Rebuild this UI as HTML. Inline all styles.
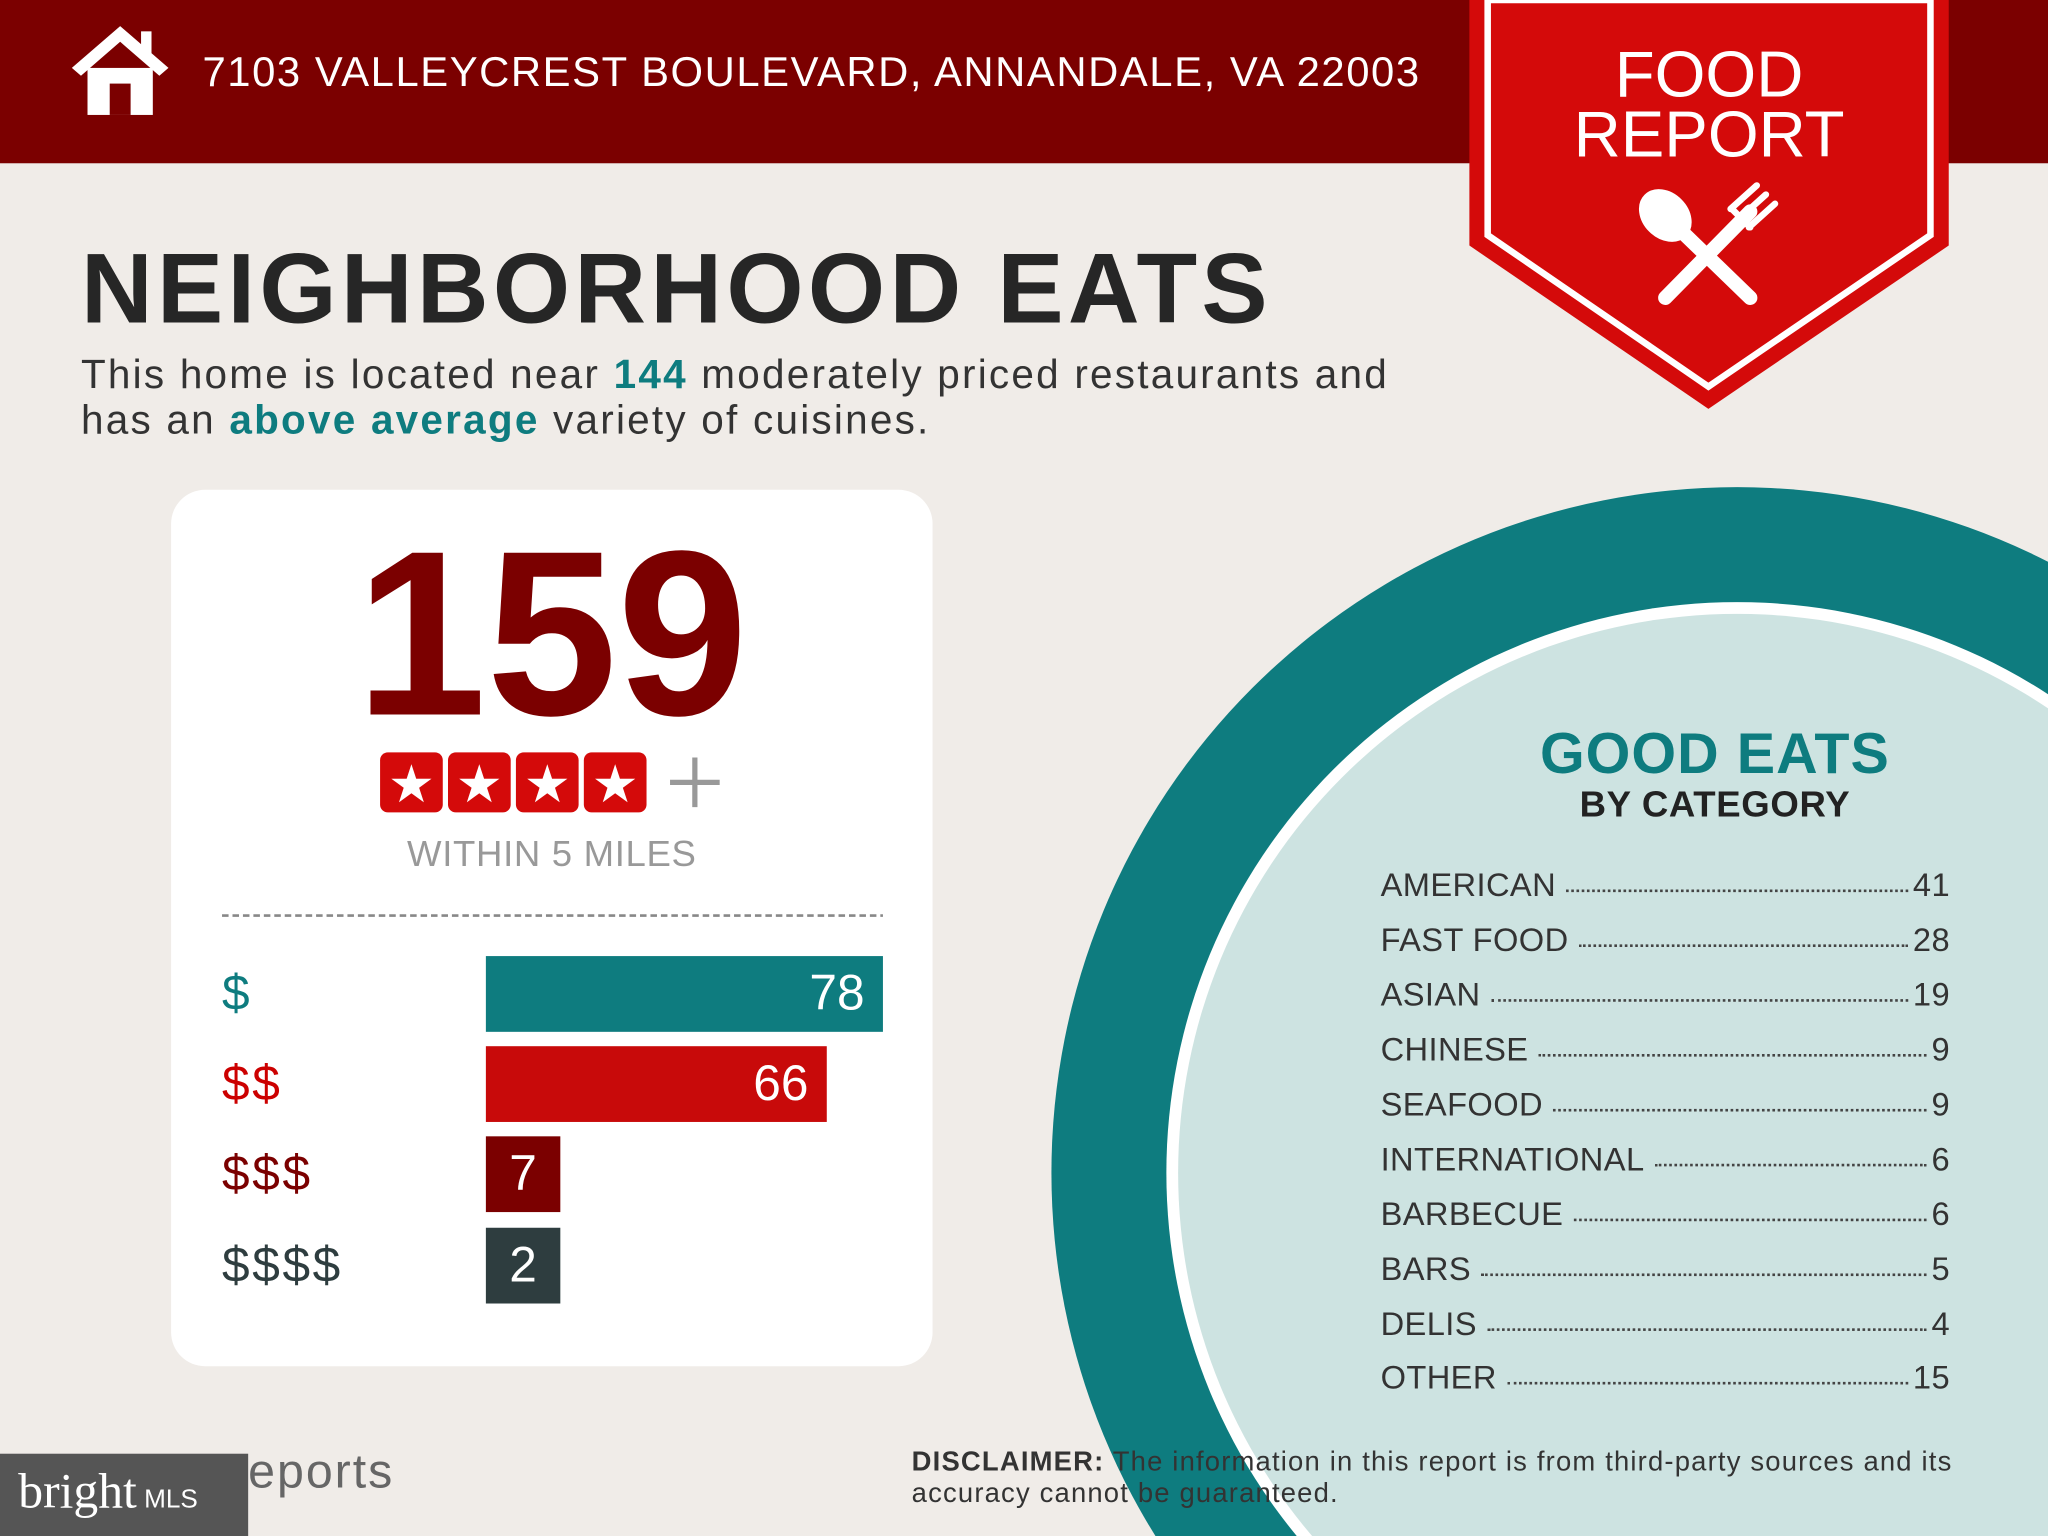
<!DOCTYPE html>
<html><head><meta charset="utf-8"><style>
html,body{margin:0;padding:0;width:2048px;height:1536px;overflow:hidden;background:#f0ece8}
#w{position:absolute;left:0;top:0;width:1568px;height:1176px;transform:scale(1.306122);transform-origin:0 0;font-family:"Liberation Sans",sans-serif;overflow:hidden;background:#f0ece8}
.a{position:absolute;white-space:nowrap}
.row{position:absolute;left:1057px;width:436px;font-size:25px;color:#333;display:flex;align-items:baseline;letter-spacing:0.3px}
.row .d{flex:1;border-bottom:2px dotted #444;margin:0 4px 0 8px;height:0;position:relative;top:-3px}
.bar{position:absolute;left:372px;height:58px;color:#fff;font-size:38px;line-height:58px;text-align:right;box-sizing:border-box;padding-right:14px}
.lab{position:absolute;left:170px;font-size:38px;line-height:58px;letter-spacing:2px}
</style></head><body><div id="w">
<svg class="a" style="left:0;top:0" width="1568" height="1176">
<rect x="0" y="0" width="1568" height="125" fill="#7b0000"/>
<circle cx="1330" cy="898" r="525" fill="#0e7c7f"/>
<circle cx="1330" cy="898" r="437" fill="#fff"/>
<circle cx="1330" cy="898" r="428" fill="#cde3e1"/>
<polygon points="1125,0 1492,0 1492,188 1308,313 1125,188" fill="#d40a0a"/>
<polygon points="1139,0 1478,0 1478,180 1308,296 1139,180" fill="none" stroke="#fff" stroke-width="5"/>
<g fill="#fff">
<polygon points="92,20 55,52 62,58 92,32 122,58 129,52"/>
<rect x="67" y="52" width="50" height="36"/>
<rect x="84" y="64" width="16" height="24" fill="#7b0000"/>
<rect x="108" y="24" width="8" height="18"/>
</g>
<g stroke="#fff" stroke-linecap="round" fill="#fff">
<line x1="1278" y1="168" x2="1340" y2="228" stroke-width="11"/>
<ellipse cx="1275" cy="165" rx="17" ry="22" transform="rotate(-45 1275 165)"/>
<line x1="1340" y1="162" x2="1275" y2="228" stroke-width="11"/>
<path d="M1325 160 L1345 142 M1332 167 L1352 149 M1339 174 L1359 156 M1326 160 L1340 174" stroke-width="5" fill="none"/>
</g>
<rect x="131" y="375" width="583" height="671" rx="26" fill="#fff"/>
<line x1="170" y1="701" x2="676" y2="701" stroke="#888" stroke-width="2" stroke-dasharray="5,3"/>
<g fill="#d40a0a">
<rect x="291" y="576" width="48" height="46" rx="6"/><rect x="343" y="576" width="48" height="46" rx="6"/><rect x="395" y="576" width="48" height="46" rx="6"/><rect x="447" y="576" width="48" height="46" rx="6"/>
</g>
<g fill="#fff" font-size="40" text-anchor="middle" font-family="DejaVu Sans">
<text x="315" y="614">★</text><text x="367" y="614">★</text><text x="419" y="614">★</text><text x="471" y="614">★</text>
</g>
<path d="M513 599 H551 M532 580 V618" stroke="#999" stroke-width="4"/>
<rect x="0" y="1113" width="190" height="63" fill="#555"/>
</svg>
<div class="a" style="left:155px;top:37px;font-size:32px;color:#fff;letter-spacing:1.2px">7103 VALLEYCREST BOULEVARD, ANNANDALE, VA 22003</div>
<div class="a" style="left:1125px;width:367px;top:34px;text-align:center;font-size:50px;line-height:46px;color:#fff">FOOD<br>REPORT</div>
<div class="a" style="left:62px;top:178px;font-size:76px;font-weight:bold;color:#262626;letter-spacing:3.3px">NEIGHBORHOOD EATS</div>
<div class="a" style="left:62px;top:269px;font-size:31px;line-height:35px;color:#333;letter-spacing:1.7px">This home is located near <b style="color:#0e7c7f">144</b> moderately priced restaurants and<br>has an <b style="color:#0e7c7f">above average</b> variety of cuisines.</div>
<div class="a" style="left:131px;width:583px;top:382px;text-align:center;font-size:180px;font-weight:bold;color:#7b0000;letter-spacing:0px">159</div>
<div class="a" style="left:131px;width:583px;top:638px;text-align:center;font-size:28px;color:#999;letter-spacing:0.5px">WITHIN 5 MILES</div>
<div class="lab" style="top:732px;color:#0e7c7f">$</div>
<div class="lab" style="top:801px;color:#c00">$$</div>
<div class="lab" style="top:870px;color:#7b0000">$$$</div>
<div class="lab" style="top:940px;color:#2e3d3f">$$$$</div>
<div class="bar" style="top:732px;width:304px;background:#0e7c7f">78</div>
<div class="bar" style="top:801px;width:261px;background:#c80a0a">66</div>
<div class="bar" style="top:870px;width:57px;background:#7b0000;text-align:center;padding:0">7</div>
<div class="bar" style="top:940px;width:57px;background:#2e3d3f;text-align:center;padding:0">2</div>
<div class="a" style="left:1113px;width:400px;top:553px;text-align:center;font-size:44px;font-weight:bold;color:#0e7c7f;letter-spacing:0.8px">GOOD EATS</div>
<div class="a" style="left:1113px;width:400px;top:600px;text-align:center;font-size:28px;font-weight:bold;color:#222;letter-spacing:0.5px">BY CATEGORY</div>
<div class="row" style="top:664px">AMERICAN<span class="d"></span>41</div>
<div class="row" style="top:706px">FAST FOOD<span class="d"></span>28</div>
<div class="row" style="top:748px">ASIAN<span class="d"></span>19</div>
<div class="row" style="top:790px">CHINESE<span class="d"></span>9</div>
<div class="row" style="top:832px">SEAFOOD<span class="d"></span>9</div>
<div class="row" style="top:874px">INTERNATIONAL<span class="d"></span>6</div>
<div class="row" style="top:916px">BARBECUE<span class="d"></span>6</div>
<div class="row" style="top:958px">BARS<span class="d"></span>5</div>
<div class="row" style="top:1000px">DELIS<span class="d"></span>4</div>
<div class="row" style="top:1041px">OTHER<span class="d"></span>15</div>
<div class="a" style="left:14px;top:1120px;font-size:38px;color:#fff;font-family:'Liberation Serif',serif">bright<span style="font-size:20px;font-family:'Liberation Sans',sans-serif"> MLS</span></div>
<div class="a" style="left:190px;top:1106px;font-size:37px;color:#666;letter-spacing:1.5px">eports</div>
<div class="a" style="left:698px;top:1108px;font-size:21px;line-height:24px;color:#333;letter-spacing:0.9px"><b>DISCLAIMER:</b> The information in this report is from third-party sources and its<br>accuracy cannot be guaranteed.</div>
</div></body></html>
